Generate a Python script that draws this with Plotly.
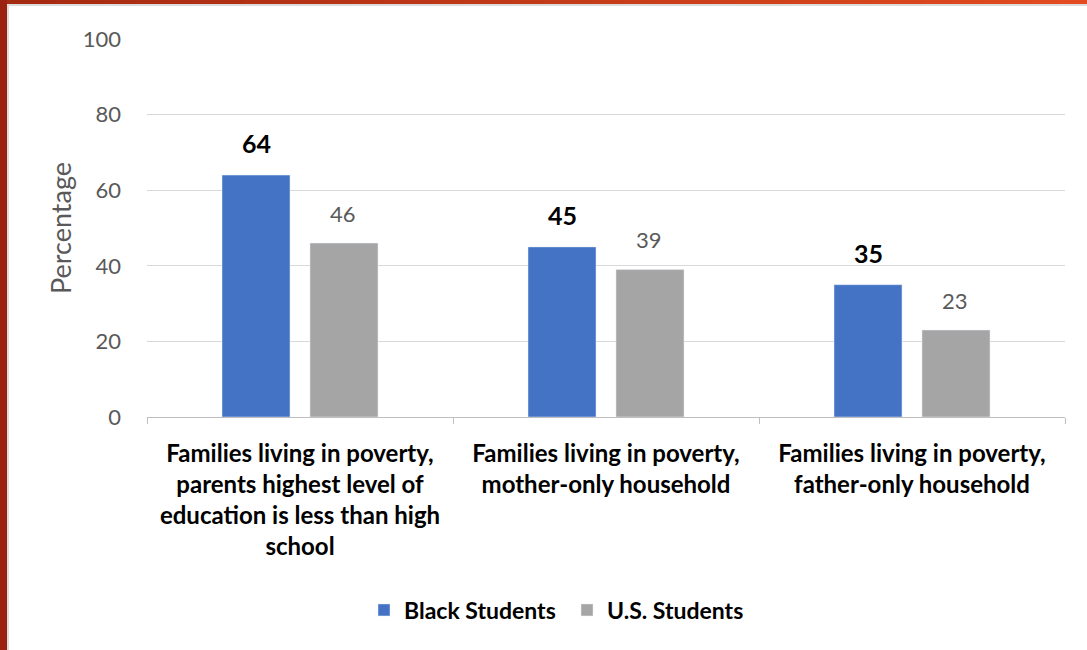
import plotly.graph_objects as go

categories = [
    "Families living in poverty,<br>parents highest level of<br>education is less than high<br>school",
    "Families living in poverty,<br>mother-only household",
    "Families living in poverty,<br>father-only household",
]
black_students = [64, 45, 35]
us_students = [46, 39, 23]
y_ticks = [0, 20, 40, 60, 80, 100]

W, H = 1087, 650
L, R, T, B = 147, 22, 39, 233
pw, ph = W - L - R, H - T - B

def px_x(px):
    return (px - L) / pw

def px_y(py):
    return (H - B - py) / ph

FONT = "Lato, 'Open Sans', sans-serif"

fig = go.Figure()
fig.add_trace(go.Bar(
    name="<b>Black Students</b>", x=categories, y=black_students,
    marker=dict(color="#4472C4"),
))
fig.add_trace(go.Bar(
    name="<b>U.S. Students</b>", x=categories, y=us_students,
    marker=dict(color="#A5A5A5"),
))

annotations = []
for cat, v in zip(categories, black_students):
    annotations.append(dict(x=cat, y=v, xref="x", yref="y", text="<b>%d</b>" % v,
                            showarrow=False, xshift=-44, yshift=32, yanchor="middle",
                            font=dict(size=25, color="#000000", family=FONT)))
for cat, v in zip(categories, us_students):
    annotations.append(dict(x=cat, y=v, xref="x", yref="y", text="%d" % v,
                            showarrow=False, xshift=43, yshift=30, yanchor="middle",
                            font=dict(size=22, color="#595959", family=FONT)))

shapes = []
n = 40
c0 = (165, 42, 18)
c1 = (226, 76, 32)
for i in range(n):
    t = i / (n - 1)
    col = "rgb(%d,%d,%d)" % tuple(int(c0[k] + (c1[k] - c0[k]) * t) for k in range(3))
    shapes.append(dict(type="rect", xref="paper", yref="paper",
                       x0=px_x(W * i / n), x1=px_x(W * (i + 1) / n + 1),
                       y0=px_y(4), y1=px_y(0), fillcolor=col, line=dict(width=0), layer="above"))
shapes.append(dict(type="rect", xref="paper", yref="paper",
                   x0=px_x(7), x1=px_x(W), y0=px_y(6), y1=px_y(4),
                   fillcolor="#dcdcdc", line=dict(width=0)))
shapes.append(dict(type="rect", xref="paper", yref="paper",
                   x0=px_x(0), x1=px_x(7), y0=px_y(H), y1=px_y(0),
                   fillcolor="#9B2210", line=dict(width=0), layer="above"))
shapes.append(dict(type="rect", xref="paper", yref="paper",
                   x0=px_x(7), x1=px_x(9), y0=px_y(H), y1=px_y(5),
                   fillcolor="#dcdcdc", line=dict(width=0)))

fig.update_layout(
    width=W, height=H,
    margin=dict(l=L, r=R, t=T, b=B, pad=0),
    paper_bgcolor="white", plot_bgcolor="white",
    font=dict(family=FONT, size=18, color="#595959"),
    barmode="group", bargap=0.425, bargroupgap=0.227,
    showlegend=True,
    legend=dict(orientation="h", x=px_x(364), xanchor="left", y=px_y(610), yanchor="middle",
                font=dict(size=23, color="#000000", family=FONT),
                itemwidth=30, entrywidth=158, entrywidthmode="pixels",
                traceorder="normal", itemclick=False),
    yaxis=dict(range=[0, 100], tickvals=y_ticks, showgrid=True, gridcolor="#d9d9d9", gridwidth=1,
               zeroline=False, showline=False, ticks="", ticklabelstandoff=25,
               tickfont=dict(size=22, color="#595959"),
               title=dict(text="Percentage", font=dict(size=27, color="#595959"), standoff=3)),
    xaxis=dict(showline=True, linecolor="#bfbfbf", linewidth=1, ticks="outside", tickson="boundaries",
               ticklen=6, tickcolor="#bfbfbf", ticklabelstandoff=15,
               tickfont=dict(size=24, color="#000000", family=FONT),
               tickprefix="<b>", ticksuffix="</b>"),
    shapes=shapes,
    annotations=annotations,
)

fig.write_html("out.html", config={"displayModeBar": False},
               post_script="document.body.style.margin='0';document.body.style.overflow='hidden';")
